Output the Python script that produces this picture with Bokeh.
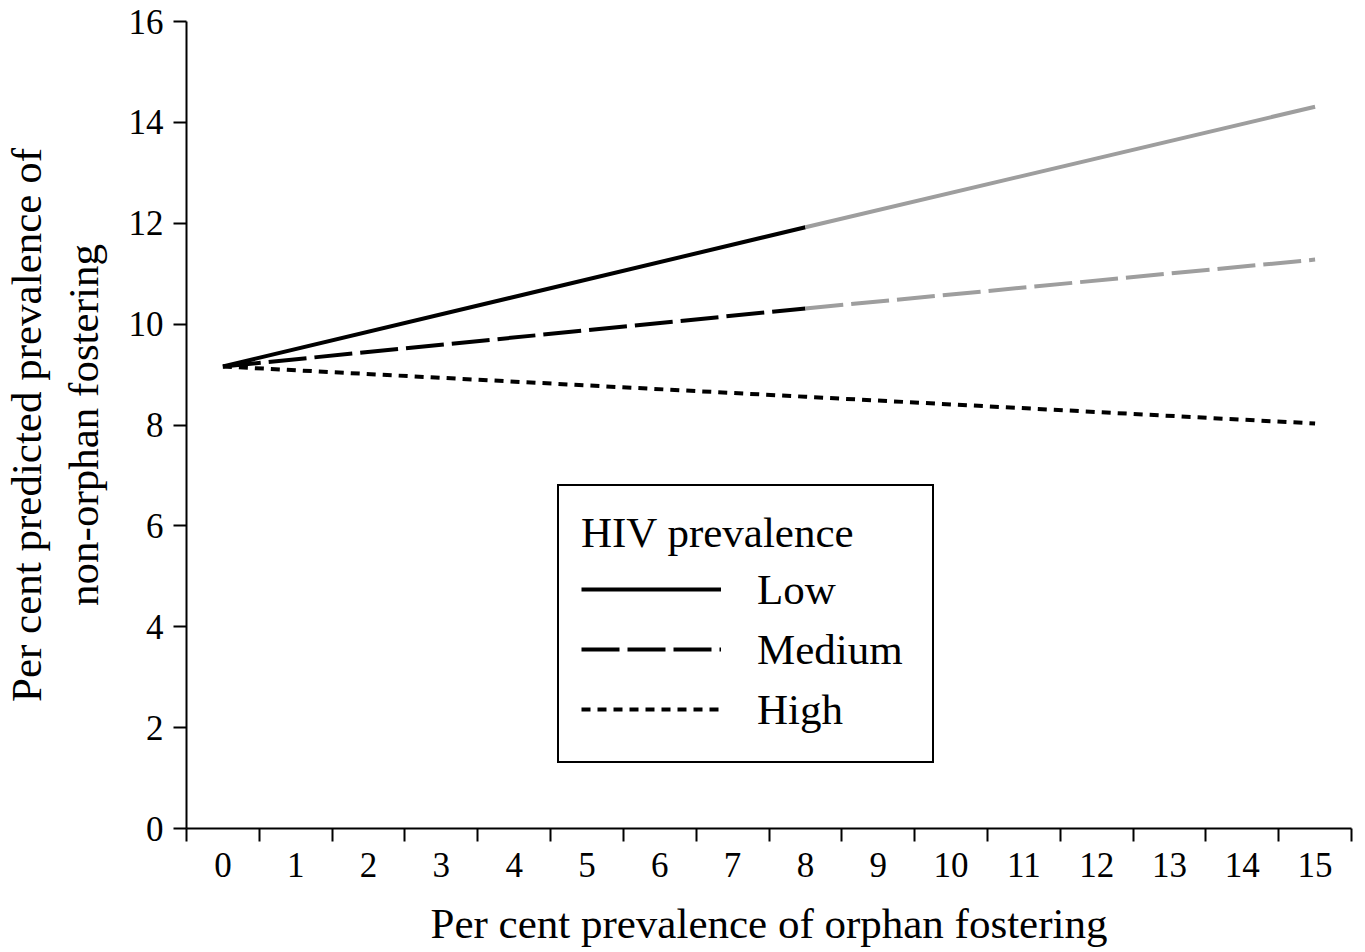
from bokeh.plotting import figure
from bokeh.models import FixedTicker, Legend, LegendItem, Range1d
from bokeh.embed import file_html
from bokeh.resources import INLINE

# ---- data ----
x_points = [0, 8, 15]
low = [9.16, 11.92, 14.31]
medium = [9.16, 10.31, 11.28]
high = [9.16, 8.56, 8.03]
x_tick_labels = list(range(0, 16))
y_ticks = [0, 2, 4, 6, 8, 10, 12, 14, 16]

FONT = "Liberation Serif"
GRAY = "#9e9e9e"

p = figure(width=1365, height=952, output_backend="svg", toolbar_location=None,
           x_range=Range1d(-0.5, 15.5), y_range=Range1d(0, 16),
           min_border_left=186, min_border_right=14, min_border_top=21, min_border_bottom=124)
p.outline_line_color = None
p.xgrid.visible = False
p.ygrid.visible = False
p.background_fill_color = "white"
p.border_fill_color = "white"

# lines: black up to x=8, gray beyond (high stays black)
r_low = p.line(x_points[:2], low[:2], line_color="black", line_width=4)
p.line(x_points[1:], low[1:], line_color=GRAY, line_width=4)
r_med = p.line(x_points[:2], medium[:2], line_color="black", line_width=4, line_dash="38 8")
p.line(x_points[1:], medium[1:], line_color=GRAY, line_width=4, line_dash="38 8")
r_high = p.line(x_points, high, line_color="black", line_width=4, line_dash="9 7")

# x axis: labels centred between boundary ticks
xa = p.xaxis[0]
xa.ticker = FixedTicker(ticks=x_tick_labels, minor_ticks=[k - 0.5 for k in range(17)])
xa.major_tick_line_color = None
xa.major_tick_out = 0
xa.major_tick_in = 0
xa.minor_tick_out = 13
xa.minor_tick_in = 0
xa.minor_tick_line_width = 2
xa.minor_tick_line_color = "black"
xa.major_label_standoff = 11
xa.axis_line_width = 2
xa.axis_line_color = "black"
xa.major_label_text_font = FONT
xa.major_label_text_font_size = "35px"
xa.major_label_text_color = "black"
xa.axis_label = "Per cent prevalence of orphan fostering"
xa.axis_label_text_font = FONT
xa.axis_label_text_font_size = "43px"
xa.axis_label_text_font_style = "normal"
xa.axis_label_text_color = "black"
xa.axis_label_standoff = 20

ya = p.yaxis[0]
ya.ticker = FixedTicker(ticks=y_ticks, minor_ticks=[])
ya.major_tick_out = 13
ya.major_tick_in = 0
ya.major_tick_line_width = 2
ya.major_tick_line_color = "black"
ya.minor_tick_line_color = None
ya.major_label_standoff = 10
ya.axis_line_width = 2
ya.axis_line_color = "black"
ya.major_label_text_font = FONT
ya.major_label_text_font_size = "35px"
ya.major_label_text_color = "black"
ya.axis_label = "Per cent predicted prevalence of\nnon-orphan fostering"
ya.axis_label_text_font = FONT
ya.axis_label_text_font_size = "43px"
ya.axis_label_text_font_style = "normal"
ya.axis_label_text_color = "black"
ya.axis_label_standoff = 19

legend = Legend(
    items=[LegendItem(label="Low", renderers=[r_low]),
           LegendItem(label="Medium", renderers=[r_med]),
           LegendItem(label="High", renderers=[r_high])],
    location=(371, 65),
    title="HIV prevalence",
    title_text_font=FONT, title_text_font_size="43px", title_text_font_style="normal",
    title_text_color="black", title_standoff=2,
    label_text_font=FONT, label_text_font_size="43px", label_text_color="black",
    glyph_width=140, glyph_height=60, label_height=60, label_standoff=36,
    label_width=153,
    spacing=0, padding=22, margin=0,
    border_line_color="black", border_line_width=2, border_line_alpha=1.0,
    background_fill_color="white", background_fill_alpha=1.0,
)
p.add_layout(legend, "center")

open("out.html", "w").write(file_html(p, INLINE))
